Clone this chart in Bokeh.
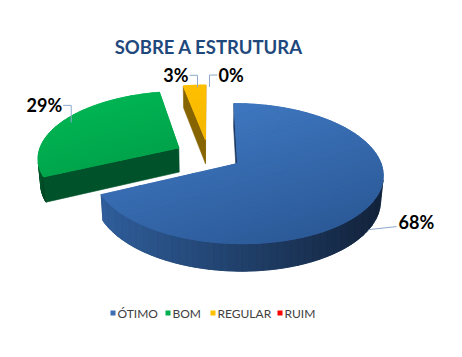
import math
from bokeh.plotting import figure
from bokeh.models import Range1d
from bokeh.embed import file_html
from bokeh.resources import INLINE
from bokeh.core.properties import value

# ---------------- data ----------------
title_text = "SOBRE A ESTRUTURA"
categories = ["ÓTIMO", "BOM", "REGULAR", "RUIM"]
percents = [68, 29, 3, 0]
label_texts = ["68%", "29%", "3%", "0%"]

# ---------------- style ----------------
top_from = ["#3E77C0", "#00B453", "#FFC000", "#FF0000"]
top_to = ["#2C5A98", "#00A34A", "#F5B800", "#E00000"]
wall_from = ["#2F5E9B", "#005A2D", "#8A6700", "#800000"]
wall_to = ["#12223A", "#004824", "#7A5A00", "#600000"]
cut_colors = ["#1C365C", "#00522A", "#866400", "#700000"]
legend_colors = ["#3D6DB3", "#00B050", "#FFC000", "#FF0000"]
FONT = "Lato"
W, H = 460, 355

# 3D projection (page pixel space)
PHI = math.radians(28.0)
SP, CP = math.sin(PHI), math.cos(PHI)
DIST = 6.28
FOC = 885.0
CX, CY = 208.0, 154.4
THICK = 0.2
EXPLODE = 0.24
CAM = (0.0, -DIST * CP, DIST * SP)
# small nudges for leader anchors (px)
anchor_nudge = [0, 7, 3, 1]


def proj(X, Y, Z):
    v = Y * SP + Z * CP
    w = DIST + Y * CP - Z * SP
    return CX + FOC * X / w, CY - FOC * v / w


def hex2rgb(h):
    h = h.lstrip("#")
    return tuple(int(h[i:i + 2], 16) for i in (0, 2, 4))


def lerp_col(c0, c1, t):
    t = min(1.0, max(0.0, t))
    a, b = hex2rgb(c0), hex2rgb(c1)
    return "#%02x%02x%02x" % tuple(int(round(a[i] + (b[i] - a[i]) * t)) for i in range(3))


def inter(p, q, dx, dy, c):
    sp = p[0] * dx + p[1] * dy
    sq = q[0] * dx + q[1] * dy
    t = (c - sp) / (sq - sp) if sq != sp else 0
    return (p[0] + (q[0] - p[0]) * t, p[1] + (q[1] - p[1]) * t)


def clip(poly, dx, dy, c, keep_ge):
    out = []
    n = len(poly)
    def inside(p):
        s = p[0] * dx + p[1] * dy
        return s >= c if keep_ge else s <= c
    for i in range(n):
        cur, prev = poly[i], poly[i - 1]
        ci, pi = inside(cur), inside(prev)
        if ci:
            if not pi:
                out.append(inter(prev, cur, dx, dy, c))
            out.append(cur)
        elif pi:
            out.append(inter(prev, cur, dx, dy, c))
    return out


def gradient_polys(pieces, dx, dy, c0, c1, n=40):
    nrm = math.hypot(dx, dy)
    dx, dy = dx / nrm, dy / nrm
    allpts = [pt for pc in pieces for pt in pc]
    s = [pt[0] * dx + pt[1] * dy for pt in allpts]
    smin, smax = min(s), max(s)
    xs, ys, cols = [], [], []
    for poly in pieces:
        for k in range(n):
            a = smin + (smax - smin) * k / n
            b = smin + (smax - smin) * (k + 1) / n
            if k == 0:
                a -= 1
            if k == n - 1:
                b += 1
            part = clip(poly, dx, dy, a, True)
            part = clip(part, dx, dy, b, False)
            if len(part) >= 3:
                xs.append([q[0] for q in part])
                ys.append([q[1] for q in part])
                cols.append(lerp_col(c0, c1, (k + 0.5) / n))
    return xs, ys, cols


p = figure(width=W, height=H, output_backend="svg", toolbar_location=None,
           x_range=Range1d(0, W), y_range=Range1d(H, 0), min_border=0)
p.axis.visible = False
p.grid.visible = False
p.outline_line_color = None
p.background_fill_color = "white"
p.border_fill_color = "white"


def draw_gradient(pieces, dx, dy, c0, c1):
    base = lerp_col(c0, c1, 0.5)
    p.patches([[q[0] for q in pc] for pc in pieces], [[q[1] for q in pc] for pc in pieces],
              fill_color=base, line_color=base, line_width=0.6)
    xs, ys, cols = gradient_polys(pieces, dx, dy, c0, c1)
    if xs:
        p.patches(xs, ys, fill_color=cols, line_color=cols, line_width=0.8)


def chunks(lst, size):
    out = []
    i = 0
    while i < len(lst) - 1:
        out.append(lst[i:i + size + 1])
        i += size
    return out


# slice geometry from the values
total = float(sum(percents))
slices = []
acc = 0.0
for i, v in enumerate(percents):
    a0 = acc / total * 360.0
    acc += v
    a1 = acc / total * 360.0
    bis = math.radians((a0 + a1) / 2.0)
    off = (EXPLODE * math.sin(bis), EXPLODE * math.cos(bis))
    slices.append((i, a0, a1, off))

order = sorted([s for s in slices if s[2] > s[1]], key=lambda s: -s[3][1])

for i, a0, a1, (ox, oy) in order:
    nstep = max(2, int((a1 - a0) / 1.0))
    angs = [math.radians(a0 + (a1 - a0) * k / nstep) for k in range(nstep + 1)]

    # outer wall (visible runs)
    runs, cur = [], []
    for t in angs:
        P = (ox + math.sin(t), oy + math.cos(t), -THICK / 2)
        d = (CAM[0] - P[0]) * math.sin(t) + (CAM[1] - P[1]) * math.cos(t)
        if d > 0:
            cur.append(t)
        elif cur:
            runs.append(cur)
            cur = []
    if cur:
        runs.append(cur)
    pieces = []
    for run in runs:
        for seg in chunks(run, 8):
            if len(seg) < 2:
                continue
            top = [proj(ox + math.sin(t), oy + math.cos(t), 0) for t in seg]
            bot = [proj(ox + math.sin(t), oy + math.cos(t), -THICK) for t in seg]
            pieces.append(top + bot[::-1])
    if pieces:
        draw_gradient(pieces, 1, 0, wall_from[i], wall_to[i])

    # cut faces
    for ang, sign in ((math.radians(a0), -1), (math.radians(a1), 1)):
        if sign < 0:
            nx, ny = -math.cos(ang), math.sin(ang)
        else:
            nx, ny = math.cos(ang), -math.sin(ang)
        P = (ox + 0.5 * math.sin(ang), oy + 0.5 * math.cos(ang), -THICK / 2)
        d = (CAM[0] - P[0]) * nx + (CAM[1] - P[1]) * ny
        if d > 0:
            quad = [proj(ox, oy, 0), proj(ox + math.sin(ang), oy + math.cos(ang), 0),
                    proj(ox + math.sin(ang), oy + math.cos(ang), -THICK), proj(ox, oy, -THICK)]
            p.patch([q[0] for q in quad], [q[1] for q in quad],
                    fill_color=cut_colors[i], line_color=cut_colors[i], line_width=0.6)

    # top face, split into convex sub-wedges
    apex = proj(ox, oy, 0)
    pieces = []
    for seg in chunks(angs, 30):
        pieces.append([apex] + [proj(ox + math.sin(t), oy + math.cos(t), 0) for t in seg])
    draw_gradient(pieces, 0.3, 1, top_from[i], top_to[i])

# ---------------- title ----------------
p.text(x=[CX + 0.5], y=[46], text=[title_text], text_font=value(FONT), text_font_size="18.5px",
       text_font_style="bold", text_color="#1F497D", text_align="center",
       text_baseline="alphabetic")

# ---------------- data labels with leader lines ----------------
LEAD = "#8DA9CC"
for i, a0, a1, (ox, oy) in slices:
    bis = math.radians((a0 + a1) / 2.0)
    if i == 0:
        ax, ay = proj(ox + math.sin(bis), oy + math.cos(bis), -THICK)
        ax += anchor_nudge[i]
        ex, ey = ax + 28, ay - 3
        p.line([ax, ex], [ay, ey], line_color=LEAD, line_width=1)
        p.text(x=[ex + 2], y=[ey - 5], text=[label_texts[i]], text_font=value(FONT),
               text_font_size="18px", text_font_style="bold", text_color="#000000",
               text_align="left", text_baseline="middle")
    else:
        ax, ay = proj(ox + math.sin(bis), oy + math.cos(bis), 0)
        ax += anchor_nudge[i]
        ay += 2
        hy = ay - (17 if i == 1 else 12)
        dirx = 1 if i == 3 else -1
        ex = ax + 8 * dirx
        p.line([ax, ax, ex], [ay, hy, hy], line_color=LEAD, line_width=1)
        p.text(x=[ex + 1 * dirx], y=[hy], text=[label_texts[i]], text_font=value(FONT),
               text_font_size="18px", text_font_style="bold", text_color="#000000",
               text_align="left" if dirx > 0 else "right", text_baseline="alphabetic")

# ---------------- legend ----------------
legend_x = [110, 165, 210, 277]
LEG_Y = 312.5
p.rect(x=[x + 2.5 for x in legend_x], y=[LEG_Y] * 4, width=5, height=5,
       fill_color=legend_colors, line_color=None)
p.text(x=[x + 7 for x in legend_x], y=[LEG_Y] * 4, text=categories,
       text_font=value(FONT), text_font_size="12px", text_color="#404040",
       text_align="left", text_baseline="middle")

open("out.html", "w").write(file_html(p, INLINE))
